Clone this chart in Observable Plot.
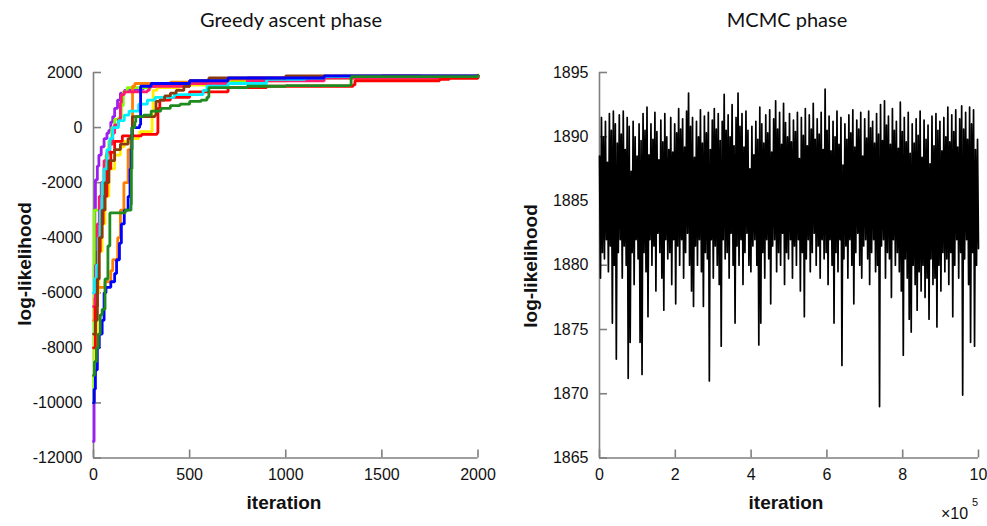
<!DOCTYPE html>
<html><head><meta charset="utf-8">
<script src="https://cdn.jsdelivr.net/npm/d3@7"></script>
<script src="https://cdn.jsdelivr.net/npm/@observablehq/plot@0.6"></script>
<style>
body{margin:0;background:#fff;}
#wrap{position:relative;width:987px;height:526px;overflow:hidden;font-family:"Liberation Sans",Arial,sans-serif;}
#wrap svg{position:absolute;top:0;}
.abs{position:absolute;white-space:nowrap;line-height:1;}
.title{font-family:Lato,"Open Sans",sans-serif;font-size:20px;color:#111;transform:translate(-50%,-50%);}
.xlab{font-weight:bold;font-size:19px;color:#111;transform:translate(-50%,-50%);}
.ylab{font-weight:bold;font-size:19px;color:#111;transform:translate(-50%,-50%) rotate(-90deg);}
.mult{font-size:16px;color:#111;}
.sup{font-size:11px;color:#111;}
</style></head><body><div id="wrap"></div>
<script>
// ---------- text ----------
const titles = ["Greedy ascent phase", "MCMC phase"];
const xLabel = "iteration";
const yLabel = "log-likelihood";
const mcmcMultiplier = "\u00d710";
const mcmcExponent = "5";

// ---------- ticks ----------
const greedyXTicks = [0, 500, 1000, 1500, 2000];
const greedyYTicks = [-12000, -10000, -8000, -6000, -4000, -2000, 0, 2000];
const greedyXDomain = [0, 2000];
const greedyYDomain = [-12000, 2000];
const mcmcXTicks = [0, 2, 4, 6, 8, 10];
const mcmcYTicks = [1865, 1870, 1875, 1880, 1885, 1890, 1895];
const mcmcXDomain = [0, 10];
const mcmcYDomain = [1865, 1895];

// ---------- greedy ascent runs: [iteration, log-likelihood] ----------
const runPurple = [[0,-11400],[3,-10000],[5,-6000],[7,-3000],[10,-1900],[20,-1400],[28,-1000],[40,-700],[55,-400],[70,-200],[80,-100],[90,200],[100,400],[110,700],[125,1000],[140,1250],[160,1350],[250,1400],[260,1500],[400,1600],[600,1700],[800,1800],[1000,1850],[1500,1880],[1700,1850],[2000,1870]];
const runLime = [[0,-10000],[2,-9000],[4,-3000],[40,-3000],[45,-2000],[55,-1500],[65,-1000],[80,-500],[95,0],[110,300],[130,350],[145,800],[155,1300],[175,1450],[300,1550],[600,1700],[1000,1800],[2000,1880]];
const runYellow = [[0,-9000],[8,-7500],[18,-6000],[28,-4500],[45,-3500],[60,-2500],[80,-1500],[110,-1000],[140,-700],[160,-500],[180,-400],[235,-300],[240,-150],[300,-150],[305,600],[310,1350],[330,1450],[450,1550],[700,1750],[1200,1850],[2000,1900]];
const runOrange = [[0,-7000],[5,-6200],[20,-5800],[60,-5600],[90,-5200],[100,-4800],[126,-4000],[140,-3000],[158,-2000],[180,-800],[195,-300],[203,1500],[215,1600],[400,1650],[700,1750],[1000,1850],[2000,1900]];
const runPink = [[0,-6500],[10,-5000],[20,-3500],[30,-2500],[40,-2000],[55,-1200],[70,-900],[85,-600],[100,-200],[110,100],[130,300],[140,900],[145,1200],[160,1300],[280,1350],[290,1500],[500,1600],[800,1700],[1200,1800],[2000,1850]];
const runRed = [[0,-8000],[10,-6500],[20,-4500],[35,-3500],[50,-2500],[70,-1500],[90,-900],[110,-500],[150,-300],[250,-250],[330,-200],[335,700],[345,1000],[400,1100],[500,1300],[700,1450],[900,1500],[1350,1550],[1360,1700],[1800,1750],[1850,1800],[2000,1850]];
const runCyan = [[0,-6000],[5,-5500],[15,-5000],[25,-4000],[35,-3000],[45,-2000],[55,-1500],[70,-800],[85,-400],[100,0],[130,250],[160,450],[185,600],[235,850],[280,1000],[320,1100],[420,1200],[570,1350],[590,1500],[700,1600],[900,1750],[1100,1800],[1200,1850],[2000,1880]];
const runBrown = [[0,-7500],[10,-7000],[20,-5500],[30,-4000],[45,-3000],[60,-2000],[80,-1200],[110,-800],[140,-600],[180,-400],[200,-300],[202,400],[320,450],[325,950],[345,1000],[370,1150],[400,1250],[430,1350],[470,1500],[500,1700],[600,1800],[1000,1880],[2000,1880]];
const runBlue = [[0,-10000],[3,-9500],[10,-8800],[20,-8000],[30,-7500],[45,-7000],[55,-6000],[65,-5800],[90,-5600],[110,-5300],[120,-4800],[135,-4200],[145,-3500],[160,-3000],[180,-2500],[190,-1500],[195,-800],[200,0],[240,100],[245,1500],[300,1600],[500,1700],[700,1800],[1200,1880],[2000,1880]];
const runGreen = [[0,-9000],[5,-8500],[15,-8000],[25,-7500],[35,-6800],[45,-6600],[60,-5500],[75,-4300],[85,-3100],[165,-3000],[195,-2800],[197,-1500],[200,0],[215,200],[220,400],[260,450],[300,600],[350,700],[400,800],[450,850],[500,950],[560,1000],[590,1100],[600,1450],[800,1500],[1000,1520],[1335,1550],[1340,1850],[2000,1880]];
const greedyRuns = [runPurple, runLime, runYellow, runOrange, runPink, runRed, runCyan, runBrown, runBlue, runGreen];
const greedyColors = ["#9a1ff0", "#80ff00", "#ffee00", "#ff8000", "#ff1a6e", "#ff0000", "#00f0ff", "#8b3a10", "#0000ff", "#1f8a1f"];

// ---------- MCMC trace: alternating upper / lower swings (log-likelihood) ----------
const mcmcHigh = [
1888.5,1891.5,1890,1891.2,1888,1891.8,1890.5,1892,1891,1889.5,
1891.7,1890.2,1892,1889,1891.5,1890.8,1887.3,1891.2,1890,1888.5,
1891,1889.7,1891.8,1890.5,1892.3,1888.6,1891,1889.8,1891.9,1890.4,
1888.2,1891.3,1889.6,1891.8,1890,1889,1891.5,1888.8,1891,1890.3,
1892.2,1890.6,1891.4,1889.2,1892,1893.4,1890.8,1891.5,1888.4,1891.2,
1890,1892.1,1889.5,1891.6,1890.3,1891.9,1889,1891.3,1892.2,1890.6,
1891.8,1889.7,1891.2,1893.3,1890.5,1891.7,1890,1892.5,1889.3,1891.5,
1893.4,1890.8,1891.8,1889.2,1892,1890.5,1887.5,1890.8,1888.6,1891.2,
1889.8,1892.3,1891,1889.5,1891.7,1890.3,1892.1,1888.8,1891.4,1892.8,
1890.6,1891.9,1889.4,1892.6,1891.1,1890,1891.8,1889.6,1891.3,1890.4,
1891.9,1888.3,1891.5,1890.1,1892.2,1889.3,1891.7,1890.6,1892.6,1889.8,
1891.4,1890.2,1891.9,1889,1893.7,1890.5,1891.6,1888.9,1891.2,1890,
1892,1889.4,1891.5,1887.8,1891,1889.8,1891.7,1890.3,1892.1,1889.2,
1891.3,1890.6,1891.9,1888.5,1891.4,1889.9,1892,1890.7,1891.2,1889.5,
1891.8,1890.2,1892.5,1889.7,1892.8,1890.9,1891.6,1889.4,1892.2,1890.5,
1891.2,1889.1,1892.7,1890.4,1891.5,1889.6,1891.9,1888.7,1891,1889.5,
1891.4,1890.1,1892,1888.4,1891.3,1889.8,1890.9,1887.9,1891.6,1889.3,
1891.8,1890.5,1891.2,1888.9,1891.5,1890,1892.3,1889.6,1891.7,1890.4,
1892.1,1889.2,1891.4,1892.4,1890.6,1891.9,1889.8,1892.3,1891,1892.1,
1889,1889.8];
const mcmcLow = [
1879,1881,1880.5,1882,1879.5,1881.5,1875.5,1880,1872.7,1881,
1882,1879,1881.5,1880,1871.2,1874,1881,1878.5,1882,1880.5,
1874,1871.5,1881,1879.5,1876,1882,1880,1881.5,1878,1882.5,
1881,1879,1876.5,1882,1880.5,1881,1878.5,1882,1877,1881.5,
1880,1882,1879,1881,1882.5,1880,1878,1876.8,1881.5,1880,
1882,1879.5,1876.8,1881,1880.5,1871,1882,1879,1881.5,1880,
1878.5,1873.7,1882,1880.5,1881,1879,1882.5,1880,1875.5,1881.5,
1880,1882,1878.5,1881,1882.5,1880,1879.5,1881.5,1882,1880,
1873.8,1875.5,1881,1879,1882,1880.5,1877,1881.5,1882,1879.5,
1881,1880,1882.5,1878.5,1881,1880.5,1882,1879,1881.5,1880,
1882,1878,1881,1876,1880.5,1882,1879.5,1881,1882.5,1880,
1881.5,1879,1882,1880.5,1881,1878.5,1882,1880,1875.5,1881,
1879.5,1882,1872.2,1880.5,1881.5,1879,1882,1880,1877,1881,
1882.5,1880,1879,1881.5,1882,1880.5,1878.5,1881,1882,1879.5,
1880,1869,1881.5,1882,1879,1881,1880.5,1877.5,1882,1880,
1881,1879.5,1878,1873,1880.5,1879,1875.8,1874.8,1880,1878.5,
1876.5,1879.5,1878,1880,1877.5,1879,1875.8,1880.5,1878.5,1879,
1875.2,1880,1878,1881,1879.5,1880.5,1878.5,1881,1876,1880,
1882,1879,1881,1869.9,1880.5,1882,1878.5,1874,1881,1873.7,
1880,1881.3];

// ---------- build tables ----------
const greedyRows = greedyRuns.flatMap((run, k) => run.map(([it, ll]) => ({it, ll, run: k})));
const nTrace = mcmcHigh.length * 2;
const mcmcRows = [];
mcmcHigh.forEach((h, i) => {
  mcmcRows.push({it: (2 * i) / (nTrace - 1) * mcmcXDomain[1], ll: h});
  mcmcRows.push({it: (2 * i + 1) / (nTrace - 1) * mcmcXDomain[1], ll: mcmcLow[i]});
});

const axisColor = "#7f7f7f";
const baseStyle = {fontFamily: "'Liberation Sans', Arial, sans-serif", fontSize: "16px", color: "#111", background: "transparent", overflow: "visible"};

function axisMarks(xDomain, yDomain, xTicks, yTicks) {
  return [
    Plot.ruleX([xDomain[0]], {stroke: axisColor, strokeWidth: 1.6}),
    Plot.ruleY([yDomain[0]], {stroke: axisColor, strokeWidth: 1.6}),
    Plot.axisY({ticks: yTicks, tickSize: -8, tickPadding: 19, stroke: axisColor, strokeWidth: 1.6, fill: "#111", fontSize: 16, label: null, tickFormat: d => String(d)}),
    Plot.axisX({ticks: xTicks, tickSize: -8, tickPadding: 19, stroke: axisColor, strokeWidth: 1.6, fill: "#111", fontSize: 16, label: null, tickFormat: d => String(d)})
  ];
}

const left = Plot.plot({
  width: 493, height: 526,
  marginLeft: 93, marginRight: 15.5, marginTop: 72, marginBottom: 68.5,
  style: baseStyle,
  x: {domain: greedyXDomain, label: null},
  y: {domain: greedyYDomain, label: null},
  marks: [
    ...axisMarks(greedyXDomain, greedyYDomain, greedyXTicks, greedyYTicks),
    ...greedyRuns.map((_, k) => Plot.line(greedyRows.filter(r => r.run === k), {
      x: "it", y: "ll", curve: "step-after", stroke: greedyColors[k], strokeWidth: 2.8, strokeLinejoin: "miter"
    }))
  ]
});
left.style.left = "0px";

const right = Plot.plot({
  width: 494, height: 526,
  marginLeft: 106, marginRight: 9, marginTop: 72, marginBottom: 68.5,
  style: baseStyle,
  x: {domain: mcmcXDomain, label: null},
  y: {domain: mcmcYDomain, label: null},
  marks: [
    ...axisMarks(mcmcXDomain, mcmcYDomain, mcmcXTicks, mcmcYTicks),
    Plot.line(mcmcRows, {x: "it", y: "ll", stroke: "#000", strokeWidth: 1.7})
  ]
});
right.style.left = "493px";

const wrap = document.getElementById("wrap");
wrap.appendChild(left);
wrap.appendChild(right);

function addText(cls, text, x, y) {
  const d = document.createElement("div");
  d.className = "abs " + cls;
  d.textContent = text;
  d.style.left = x + "px";
  d.style.top = y + "px";
  wrap.appendChild(d);
  return d;
}
addText("title", titles[0], 291, 19);
addText("title", titles[1], 787, 19);
addText("xlab", xLabel, 284, 502);
addText("xlab", xLabel, 786, 502);
addText("ylab", yLabel, 24, 264);
addText("ylab", yLabel, 530, 266);
addText("mult", mcmcMultiplier, 941, 506);
addText("sup", mcmcExponent, 972, 497);
</script>
</body></html>
